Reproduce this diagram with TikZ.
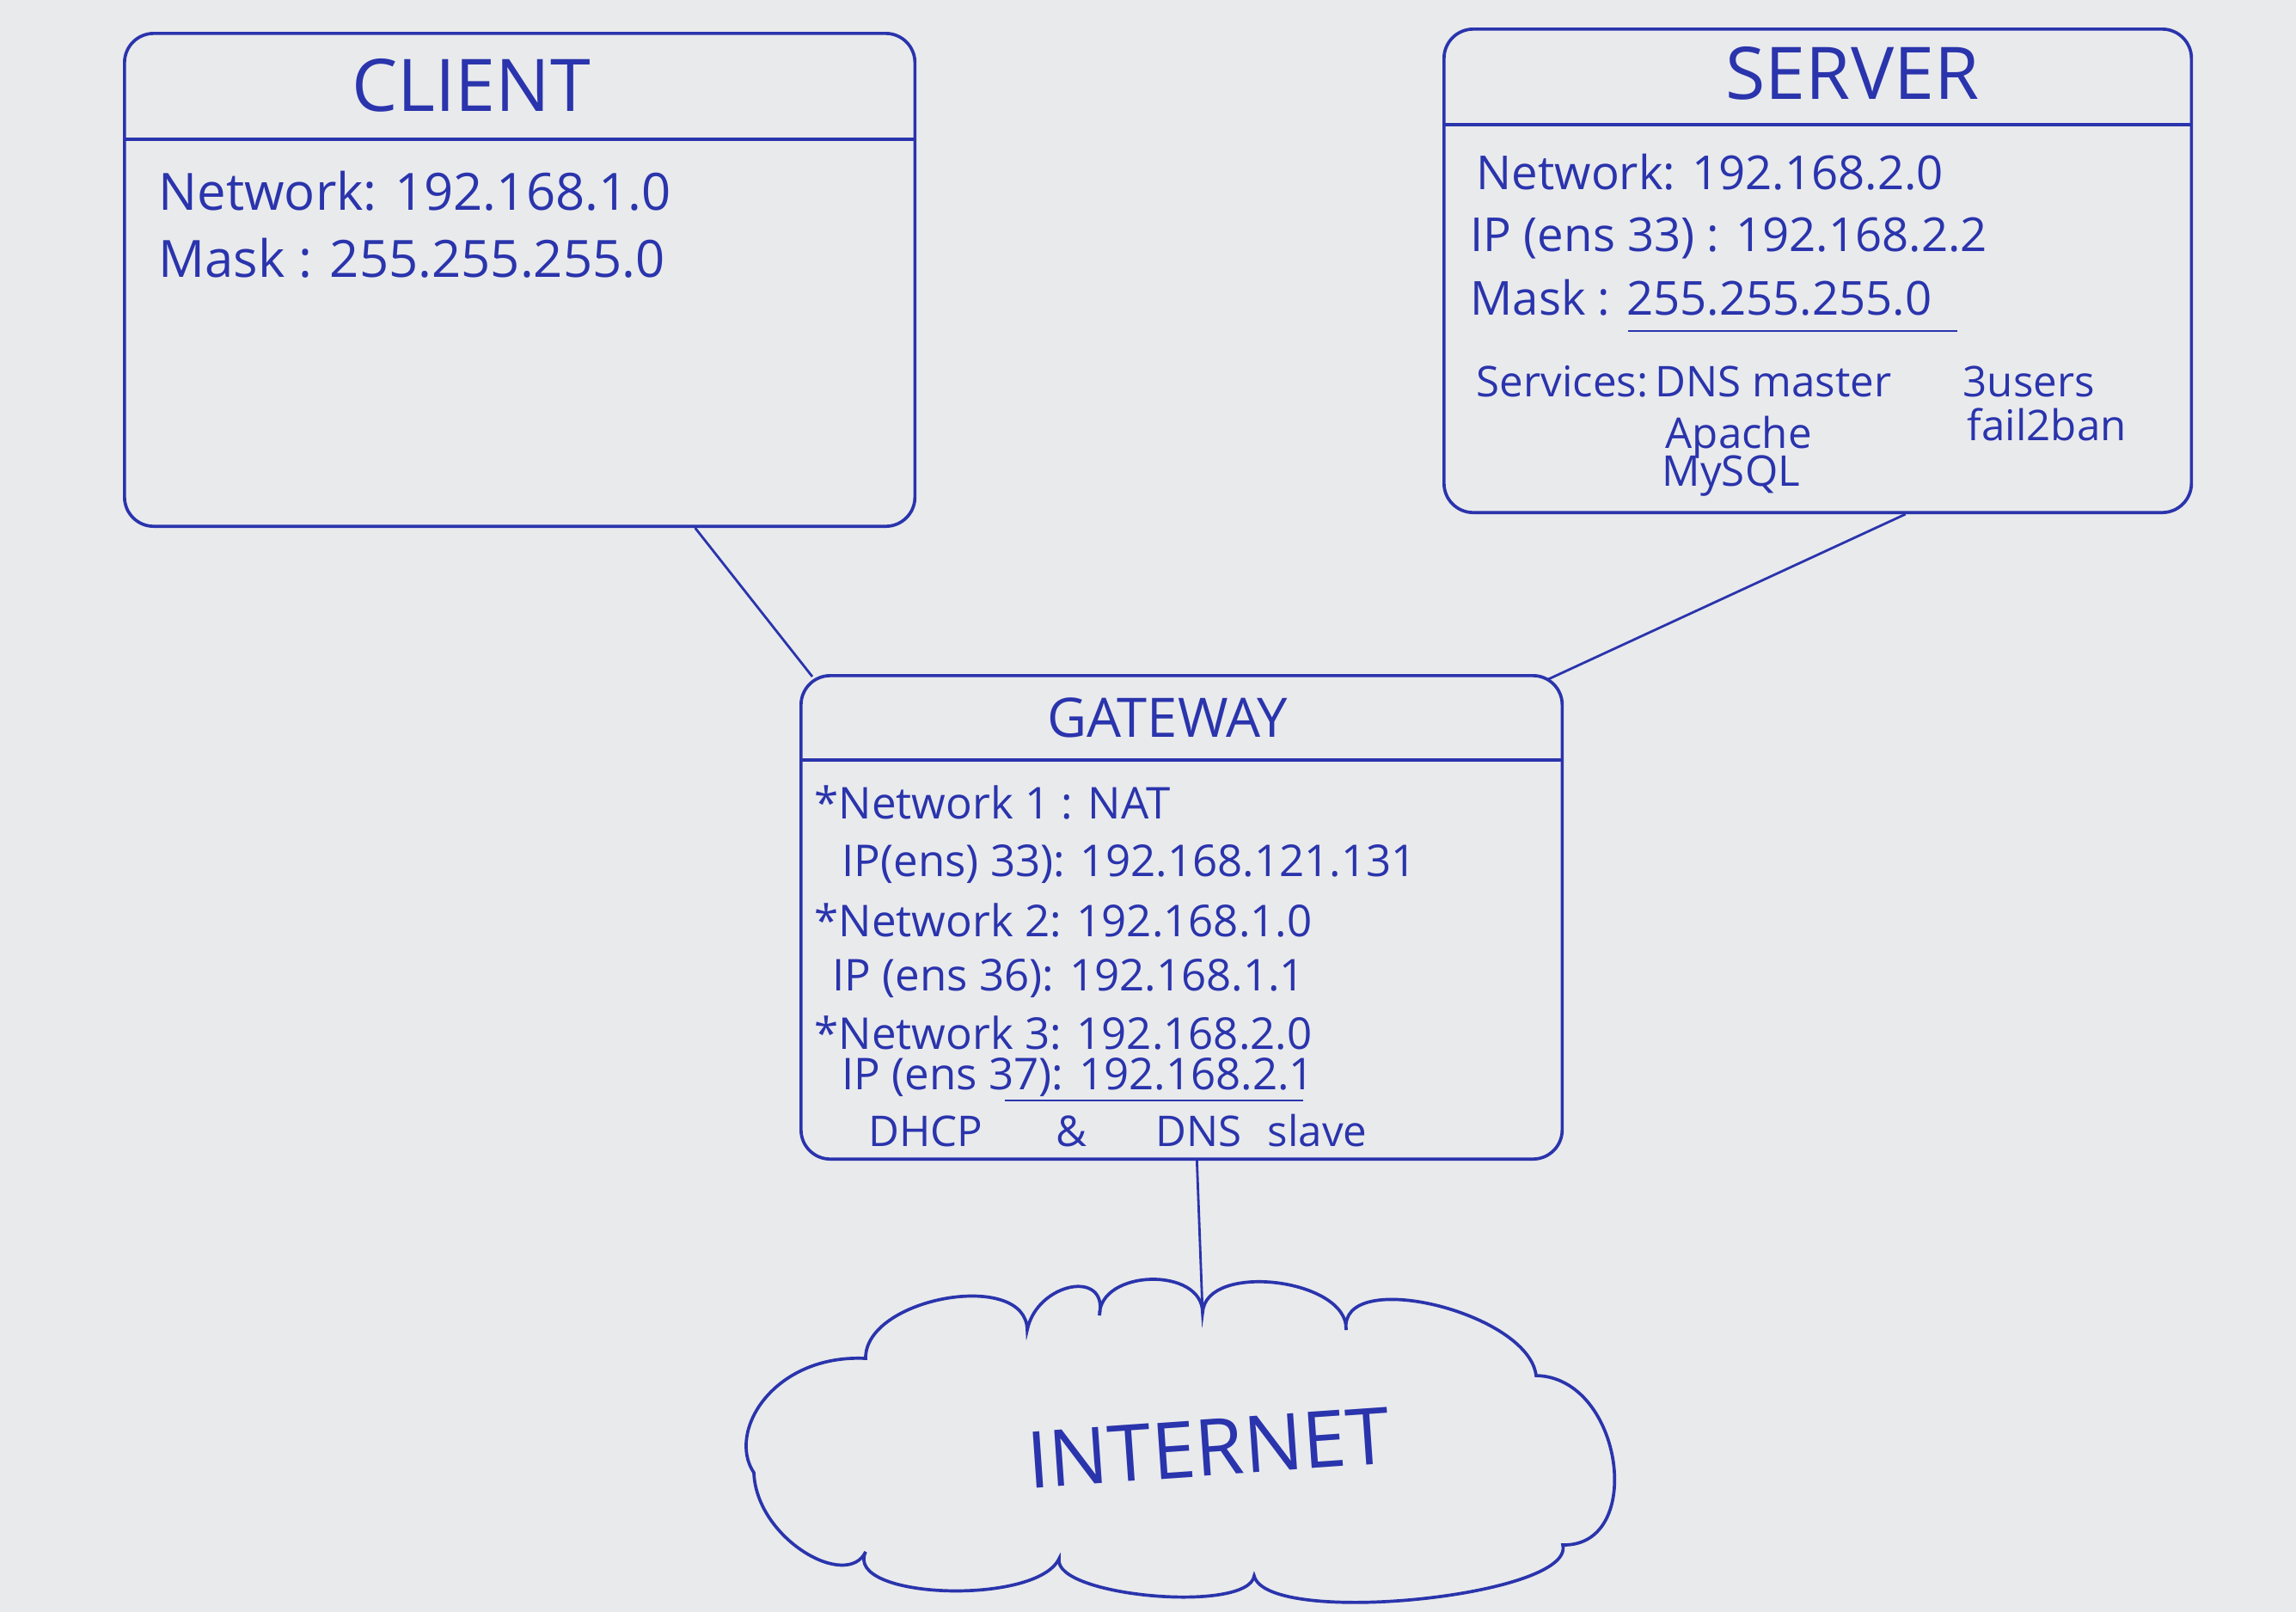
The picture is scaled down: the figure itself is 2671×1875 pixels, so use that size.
\documentclass[tikz,border=0pt]{standalone}
\usepackage{fontspec}
\setmainfont{Open Sans}
\usetikzlibrary{calc}
\definecolor{ink}{RGB}{42,52,172}
\definecolor{paper}{RGB}{233,234,236}
\begin{document}
\begin{tikzpicture}[x=0.01cm,y=-0.01cm,
  box/.style={draw=ink, line width=1.05pt, rounded corners=0.34cm, anchor=north west, inner sep=0pt},
  divider/.style={draw=ink, line width=1.05pt},
  wire/.style={draw=ink, line width=0.8pt},
  txt/.style={text=ink, anchor=west, inner sep=0pt, text height=1.5ex, text depth=.3ex},
  body/.style={txt, font=\fontsize{17}{20}\selectfont},
  sbody/.style={txt, font=\fontsize{15.5}{18}\selectfont},
  gbody/.style={txt, font=\fontsize{14.5}{17}\selectfont},
  small/.style={txt, font=\fontsize{14}{17}\selectfont},
  title/.style={text=ink, inner sep=0pt, font=\fontsize{24}{28}\selectfont},
]
\fill[paper] (0,0) rectangle (2671,1875);
\useasboundingbox (0,0) rectangle (2671,1875);

% boxes
\node[box, minimum width=9.19cm, minimum height=5.73cm] (client) at (143,37) {};
\node[box, minimum width=8.69cm, minimum height=5.62cm] (server) at (1678,32) {};
\node[box, minimum width=8.85cm, minimum height=5.62cm] (gw) at (930,784) {};

\draw[divider] ($(client.north west)+(0,125)$) -- ($(client.north east)+(0,125)$);
\draw[divider] ($(server.north west)+(0,113)$) -- ($(server.north east)+(0,113)$);
\draw[divider] ($(gw.north west)+(0,100)$) -- ($(gw.north east)+(0,100)$);

% client
\node[title] (clientT) at (548,99) {CLIENT};
\node[body] (c1) at (184,233) {Network: 192.168.1.0};
\node[body] (c2) at (184,311) {Mask : 255.255.255.0};

% server
\node[title] (serverT) at (2155,85) {SERVER};
\node[sbody] (s1) at (1717,209) {Network: 192.168.2.0};
\node[sbody] (s2) at (1710,281) {IP (ens 33) : 192.168.2.2};
\node[sbody] (s3) at (1710,355) {Mask : 255.255.255.0};
\draw[wire] (1894,385) -- (2277,385);
\node[small] (s4) at (1717,450) {Services:};
\node[small] (s5) at (1925,450) {DNS master};
\node[small] (s6) at (1937,510) {Apache};
\node[small] (s7) at (1933,554) {MySQL};
\node[small] (s8) at (2283,450) {3users};
\node[small] (s9) at (2288,501) {fail2ban};

% gateway
\node[title, font=\fontsize{18}{22}\selectfont] (gwT) at (1358,835) {GATEWAY};
\node[gbody] (g1) at (947,941) {*Network 1 : NAT};
\node[gbody] (g2) at (979,1008) {IP(ens) 33): 192.168.121.131};
\node[gbody] (g3) at (947,1078) {*Network 2: 192.168.1.0};
\node[gbody] (g4) at (968,1141) {IP (ens 36): 192.168.1.1};
\node[gbody] (g5) at (947,1209) {*Network 3: 192.168.2.0};
\node[gbody] (g6) at (979,1256) {IP (ens 37): 192.168.2.1};
\draw[wire] (1169,1280) -- (1516,1280);
\node[small] (g7) at (1010,1322) {DHCP\hspace{0.85cm}\&\hspace{0.8cm}DNS\hspace{0.3cm}slave};

% cloud
\coordinate (cloudtop) at (1399,1527);
\draw[ink, line width=1.05pt]
  (1007,1580) .. controls (1006,1509) and (1194,1476) .. (1195,1547)
  .. controls (1206,1492) and (1290,1475) .. (1279,1530)
  .. controls (1279,1476) and (1399,1473) .. (cloudtop)
  .. controls (1402,1467) and (1569,1487) .. (1566,1547)
  .. controls (1557,1473) and (1778,1526) .. (1787,1600)
  .. controls (1888,1602) and (1915,1799) .. (1818,1797)
  .. controls (1833,1857) and (1474,1893) .. (1459,1833)
  .. controls (1452,1877) and (1225,1857) .. (1232,1813)
  .. controls (1206,1868) and (981,1860) .. (1007,1805)
  .. controls (985,1850) and (880,1790) .. (877,1713)
  .. controls (845,1665) and (900,1575) .. (1007,1580) -- cycle;
\node[text=ink, inner sep=0pt, rotate=4, font=\fontsize{26}{30}\selectfont] (internet) at (1406,1684) {INTERNET};

% connectors
\draw[wire] ($(client.south west)!0.721!(client.south east)$) -- ($(gw.north west)+(15,3)$);
\draw[wire] ($(server.south west)!0.617!(server.south east)$) -- ($(gw.north east)+(-18,6)$);
\draw[wire] ($(gw.south west)!0.52!(gw.south east)$) -- (cloudtop);
\end{tikzpicture}
\end{document}
